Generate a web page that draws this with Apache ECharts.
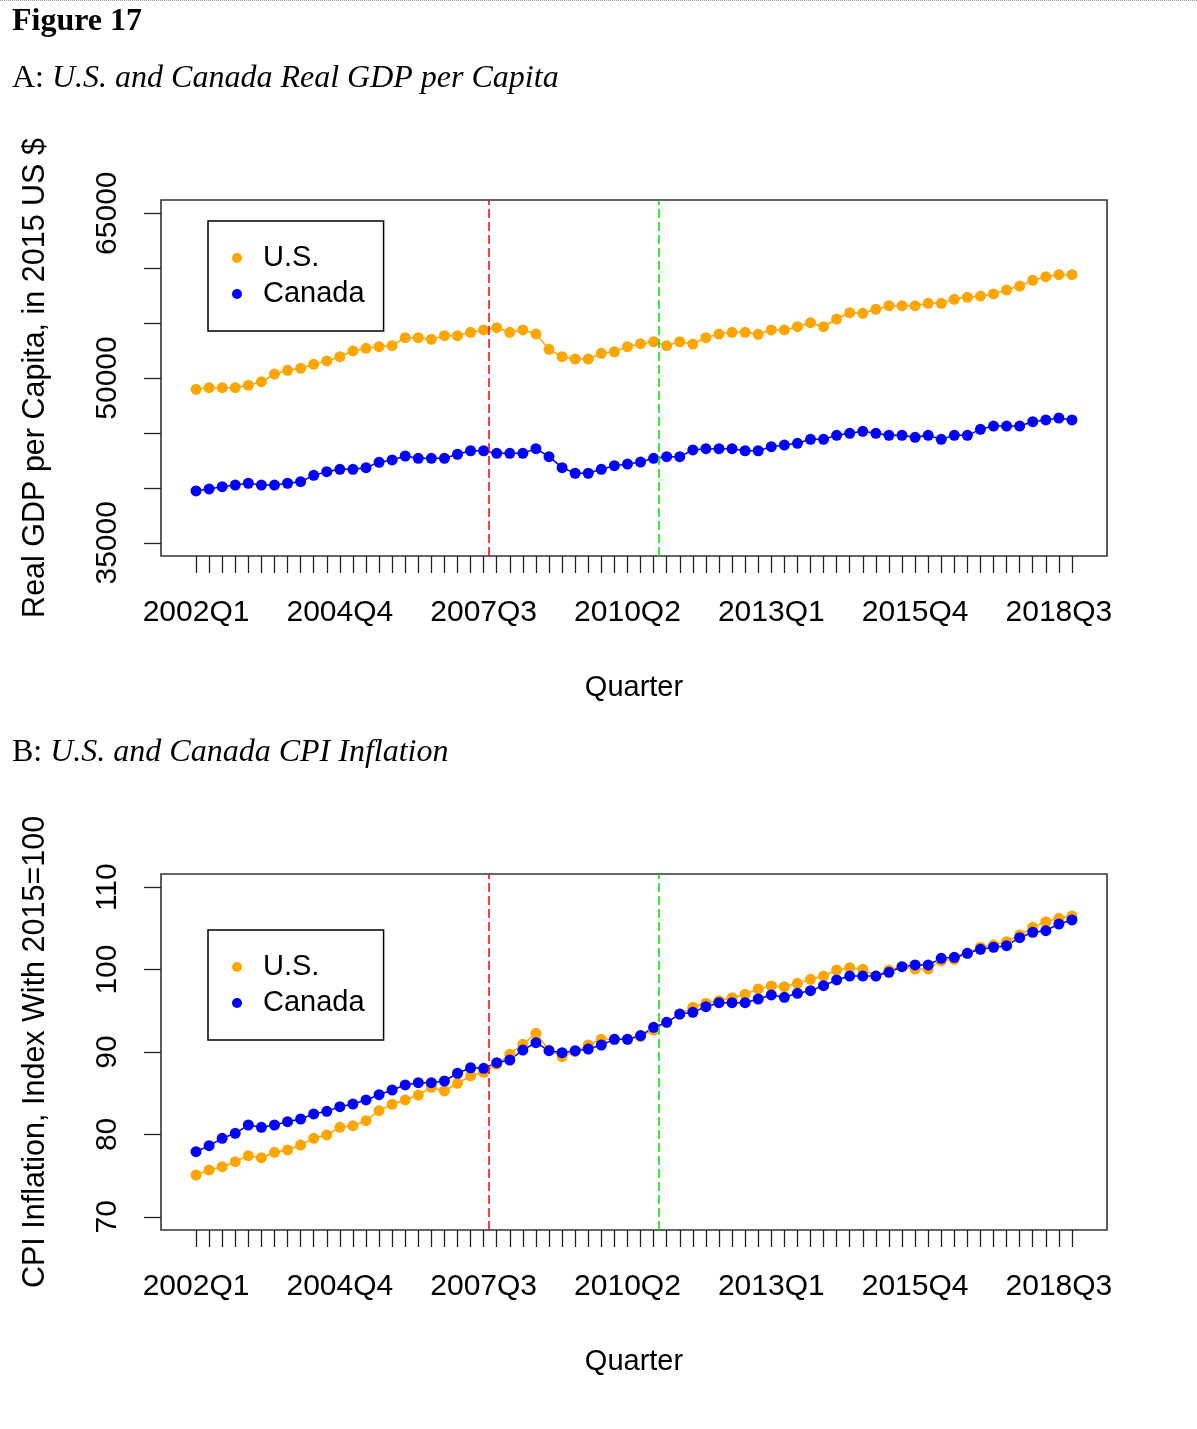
<!DOCTYPE html>
<html><head><meta charset="utf-8">
<script src="https://cdn.jsdelivr.net/npm/echarts@6/dist/echarts.min.js"></script>
<style>html,body{margin:0;padding:0;background:#fff}#c{width:1197px;height:1429px}</style>
</head><body><div id="c"></div>
<script>
// ---------- data ----------
const quarters = [
  '2002Q1','2002Q2','2002Q3','2002Q4','2003Q1','2003Q2','2003Q3','2003Q4',
  '2004Q1','2004Q2','2004Q3','2004Q4','2005Q1','2005Q2','2005Q3','2005Q4',
  '2006Q1','2006Q2','2006Q3','2006Q4','2007Q1','2007Q2','2007Q3','2007Q4',
  '2008Q1','2008Q2','2008Q3','2008Q4','2009Q1','2009Q2','2009Q3','2009Q4',
  '2010Q1','2010Q2','2010Q3','2010Q4','2011Q1','2011Q2','2011Q3','2011Q4',
  '2012Q1','2012Q2','2012Q3','2012Q4','2013Q1','2013Q2','2013Q3','2013Q4',
  '2014Q1','2014Q2','2014Q3','2014Q4','2015Q1','2015Q2','2015Q3','2015Q4',
  '2016Q1','2016Q2','2016Q3','2016Q4','2017Q1','2017Q2','2017Q3','2017Q4',
  '2018Q1','2018Q2','2018Q3','2018Q4'
];
const xTickLabels = ['2002Q1','2004Q4','2007Q3','2010Q2','2013Q1','2015Q4','2018Q3'];

const usGDP = [48970,49120,49120,49120,49340,49660,50360,50700,50880,51250,51550,51940,52460,52700,52850,52940,
  53670,53670,53520,53850,53850,54160,54370,54580,54160,54370,54000,52610,51940,51730,51730,52250,52390,52850,
  53120,53300,52940,53300,53090,53670,54000,54160,54160,53980,54370,54370,54670,55030,54670,55370,55940,55890,
  56250,56580,56580,56580,56800,56800,57160,57340,57460,57650,58010,58370,58890,59220,59400,59400];
const canadaGDP = [39720,39900,40110,40260,40420,40260,40260,40420,40560,41140,41470,41690,41690,41840,42330,42540,
  42900,42690,42690,42690,43060,43380,43380,43150,43150,43150,43570,42840,41840,41330,41330,41690,42020,42170,
  42350,42690,42840,42840,43450,43570,43570,43570,43380,43380,43750,43900,44060,44420,44420,44780,44970,45150,
  44970,44780,44780,44600,44780,44420,44780,44780,45330,45630,45630,45630,46020,46180,46360,46180];

const usCPI = [75.07,75.68,76.08,76.69,77.42,77.17,77.83,78.11,78.71,79.53,79.93,80.86,81.06,81.66,82.88,83.65,
  84.18,84.78,85.72,85.27,86.20,87.09,87.54,88.50,89.72,90.93,92.27,90.24,89.43,90.04,90.85,91.54,91.54,91.54,
  91.86,92.67,93.60,94.61,95.42,95.91,96.23,96.59,97.00,97.65,98.01,97.93,98.34,98.82,99.22,99.95,100.23,100.04,
  99.22,99.95,100.35,100.07,100.07,101.08,101.25,101.98,102.71,102.98,103.39,104.20,105.13,105.81,106.22,106.50];
const canadaCPI = [77.90,78.63,79.53,80.13,81.14,80.86,81.14,81.54,81.87,82.48,82.80,83.36,83.69,84.18,84.82,85.39,
  86.00,86.28,86.28,86.48,87.42,88.09,88.02,88.70,89.03,90.24,91.13,90.16,89.92,90.16,90.36,90.85,91.54,91.54,
  92.00,93.00,93.60,94.61,94.82,95.50,95.98,95.98,95.98,96.43,96.92,96.64,97.12,97.44,98.05,98.74,99.22,99.22,
  99.22,99.67,100.35,100.56,100.56,101.37,101.49,101.98,102.46,102.71,102.90,103.87,104.53,104.72,105.53,106.02];

const gdpTicks = [35000,40000,45000,50000,55000,60000,65000];
const gdpTickLabels = [35000,50000,65000];
const cpiTicks = [70,80,90,100,110];
// event markers on the quarter scale (1 = 2002Q1)
const eventX = [23.39, 36.39];

// ---------- chart ----------
const SANS = 'Liberation Sans, Arial, sans-serif';
const SERIF = 'Liberation Serif, Times New Roman, serif';
const ORANGE = '#FFA500', BLUE = '#0000FF';

function pts(arr){ return arr.map((v,i)=>[i+1, v]); }

function xAxisFor(gi){
  return {
    type:'value', gridIndex:gi, min:-1.68, max:70.68,
    name:'Quarter', nameLocation:'middle', nameGap:117,
    nameTextStyle:{fontFamily:SANS, fontSize:29, color:'#000'},
    axisLine:{show:false, onZero:false},
    splitLine:{show:false},
    axisTick:{show:true, length:17, customValues: quarters.map((q,i)=>i+1),
      lineStyle:{color:'#222', width:1.3}},
    axisLabel:{show:true, customValues: xTickLabels.map(l=>quarters.indexOf(l)+1),
      formatter: v => quarters[Math.round(v)-1] || '',
      margin:42, fontFamily:SANS, fontSize:30, color:'#000'}
  };
}
function yAxisFor(gi, min, max, ticks, labels, name){
  return {
    type:'value', gridIndex:gi, min:min, max:max,
    name:name, nameLocation:'middle', nameRotate:90, nameGap:110,
    nameTextStyle:{fontFamily:SANS, fontSize:30.5, color:'#000'},
    axisLine:{show:false, onZero:false},
    splitLine:{show:false},
    axisTick:{show:true, length:17, customValues:ticks, lineStyle:{color:'#222', width:1.3}},
    axisLabel:{show:true, customValues:labels, rotate:90, margin:38,
      formatter: v => String(v),
      fontFamily:SANS, fontSize:30, color:'#000'}
  };
}
function lineSeries(name, color, data, gi, withMarks){
  const s = {
    name:name, type:'line', xAxisIndex:gi, yAxisIndex:gi, data:pts(data),
    symbol:'circle', symbolSize:11, showSymbol:true,
    lineStyle:{color:color, width:1.5}, itemStyle:{color:color},
    emphasis:{disabled:true}, animation:false
  };
  if (withMarks){
    s.markLine = {
      silent:true, symbol:['none','none'], label:{show:false}, animation:false,
      data: eventX.map((x,k)=>({xAxis:x, lineStyle:{color: k===0 ? '#FF0000' : '#00E000', type:[9,4], width:1.5}}))
    };
  }
  return s;
}
function legendFor(top){
  return {
    left:208, top:top, orient:'vertical',
    data:['U.S.','Canada'], icon:'circle', itemWidth:42, itemHeight:10, itemGap:0,
    padding:[19,19,19,24], borderColor:'#000', borderWidth:1.5,
    selectedMode:false,
    textStyle:{fontFamily:SANS, fontSize:29, color:'#000', lineHeight:31, padding:[5,0,0,0]}
  };
}

const chart = echarts.init(document.getElementById('c'), null, {renderer:'canvas'});
chart.setOption({
  animation:false,
  backgroundColor:'#fff',
  grid:[
    {left:161, top:200, width:946, height:356, show:true, borderColor:'#333', borderWidth:1.6, backgroundColor:'transparent'},
    {left:161, top:874, width:946, height:356, show:true, borderColor:'#333', borderWidth:1.6, backgroundColor:'transparent'}
  ],
  xAxis:[xAxisFor(0), xAxisFor(1)],
  yAxis:[
    yAxisFor(0, 33800, 66200, gdpTicks, gdpTickLabels, 'Real GDP per Capita, in 2015 US $'),
    yAxisFor(1, 68.4, 111.6, cpiTicks, cpiTicks, 'CPI Inflation, Index With 2015=100')
  ],
  legend:[legendFor(221), legendFor(930)],
  series:[
    lineSeries('U.S.', ORANGE, usGDP, 0, false),
    lineSeries('Canada', BLUE, canadaGDP, 0, true),
    lineSeries('U.S.', ORANGE, usCPI, 1, false),
    lineSeries('Canada', BLUE, canadaCPI, 1, true)
  ],
  graphic:[
    {type:'line', shape:{x1:0,y1:0.5,x2:1197,y2:0.5}, style:{stroke:'#999', lineWidth:1, lineDash:[1,1]}},
    {type:'text', left:12, top:6, style:{text:'Figure 17', fontFamily:SERIF, fontSize:32, fontWeight:'bold', fill:'#000'}},
    {type:'text', left:12, top:63, style:{text:'{n|A: }{i|U.S. and Canada Real GDP per Capita}', fill:'#000',
      rich:{n:{fontFamily:SERIF, fontSize:32}, i:{fontFamily:SERIF, fontSize:32, fontStyle:'italic'}}}},
    {type:'text', left:12, top:737, style:{text:'{n|B: }{i|U.S. and Canada CPI Inflation}', fill:'#000',
      rich:{n:{fontFamily:SERIF, fontSize:32}, i:{fontFamily:SERIF, fontSize:32, fontStyle:'italic'}}}}
  ]
});
</script></body></html>
